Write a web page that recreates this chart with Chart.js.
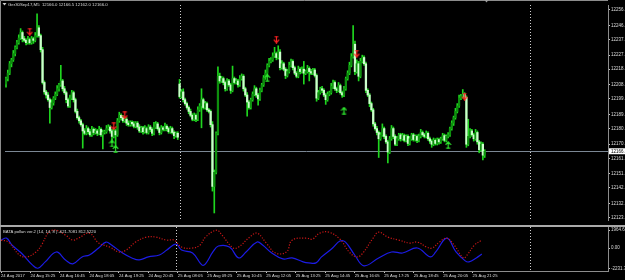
<!DOCTYPE html>
<html>
<head>
<meta charset="utf-8">
<title>Ger30Sep17,M5</title>
<script src="https://cdn.jsdelivr.net/npm/chart.js@4.4.1/dist/chart.umd.min.js"></script>
<style>
  html, body { margin: 0; padding: 0; background: #000; }
  #wrap { position: relative; width: 625px; height: 280px; overflow: hidden; background: #000; }
  #main { position: absolute; left: 0; top: 0; }
  #sep { position: absolute; left: 0; top: 225px; width: 625px; height: 2px; background: #a9a9a9; }
  #sub { position: absolute; left: 0; top: 227px; }
</style>
</head>
<body>
<div id="wrap">
  <canvas id="main" width="625" height="225"></canvas>
  <div id="sep"></div>
  <canvas id="sub" width="625" height="53"></canvas>
</div>
<script>
// M5 closes, 24 Aug 14:05 -> 25 Aug 21:55 (index 95 = 25 Aug 08:00)
const closes = [
  12212.5, 12216, 12222, 12224.5, 12228.5, 12232.5, 12235.5, 12238.5, 12242, 12238,
  12237, 12235.5, 12237.5, 12235.5, 12238, 12237, 12240, 12245, 12240, 12231,
  12210, 12204, 12202, 12199, 12194, 12197, 12200, 12202.5, 12206, 12208.5,
  12211, 12206, 12203.5, 12199, 12195, 12200, 12203.5, 12199, 12191.5, 12187.5,
  12185.5, 12183, 12179, 12177.5, 12180.5, 12178.5, 12176.5, 12180, 12178, 12179,
  12177.5, 12180, 12176.5, 12178, 12178.5, 12180.5, 12181.5, 12179, 12175.5, 12179,
  12176.5, 12185.5, 12189, 12187.5, 12185.5, 12186.5, 12184, 12183, 12184.5, 12183.5,
  12182, 12184, 12181.5, 12179, 12181, 12178.5, 12180.5, 12178, 12181.5, 12180,
  12177.5, 12181.5, 12183.5, 12180.5, 12178, 12181, 12180, 12182, 12180.5, 12178.5,
  12180.5, 12178, 12176, 12177.5, 12175, 12201, 12204, 12199, 12196.5, 12194,
  12191.5, 12189, 12186.5, 12189, 12186.5, 12192.5, 12195, 12199, 12194, 12196.5,
  12192.5, 12191.5, 12183, 12143.5, 12152.5, 12177.5, 12214, 12211, 12212.5, 12210,
  12206, 12211, 12208.5, 12205, 12212.5, 12210, 12211, 12208.5, 12212.5, 12214,
  12206, 12202, 12197.5, 12194, 12199, 12202.5, 12206, 12202, 12199.5, 12205,
  12208.5, 12213, 12216, 12221, 12223.5, 12224.5, 12227, 12228.5, 12226, 12229.5,
  12219.5, 12222, 12218.5, 12214.5, 12217, 12221, 12223.5, 12219.5, 12216, 12214,
  12218.5, 12217, 12218.5, 12216, 12217, 12219, 12217, 12216, 12218, 12214.5,
  12200, 12203.5, 12206, 12205, 12202, 12199, 12202.5, 12203.5, 12207.5, 12210,
  12206, 12205, 12208, 12203.5, 12202, 12206, 12212.5, 12216, 12221, 12226.5,
  12234.5, 12217, 12222, 12214, 12223.5, 12226, 12222, 12205, 12202, 12196.5,
  12192.5, 12183.5, 12180.5, 12178, 12174, 12176.5, 12180.5, 12175.5, 12172, 12165.5,
  12174, 12180.5, 12175.5, 12170.5, 12174, 12176.5, 12174, 12176, 12173, 12175.5,
  12171, 12174, 12176.5, 12173.5, 12175.5, 12173, 12175.5, 12178, 12176.5, 12175.5,
  12177.5, 12174, 12172.5, 12170.5, 12173, 12171, 12173.5, 12172, 12174, 12176,
  12173, 12175.5, 12176.5, 12180.5, 12184, 12187.5, 12191.5, 12195, 12200, 12201,
  12202.5, 12200.5, 12170.5, 12175.5, 12179, 12176.5, 12174, 12178, 12172, 12167,
  12170.5, 12163.5, 12166
];
// wick length above / below the body, in points
const wickHi = [
  1, 2, 1.5, 1, 2, 1, 1.5, 2, 2.5, 1,
  1.5, 1, 2, 1, 1.5, 1, 2, 9, 1.5, 1,
  1.5, 1, 1, 1.5, 1, 2, 1, 1.5, 2, 1,
  10, 1, 1.5, 1, 1, 2, 1.5, 1, 1, 1.5,
  1, 1, 1, 1.5, 2, 1, 1.5, 2, 1, 1.5,
  1, 2, 1, 1.5, 1, 2, 1.5, 1, 1, 1.5,
  1, 1.5, 2, 1, 1.5, 1, 1, 1.5, 1, 1,
  1.5, 1, 1, 1.5, 1, 1, 2, 1, 1.5, 1,
  1, 3, 1.5, 1, 1, 1.5, 1, 2, 1, 1,
  1.5, 1, 1, 1, 1, 3, 1.5, 2, 1, 1,
  1, 1.5, 1, 1.5, 1, 2, 1.5, 7, 1, 1.5,
  1, 1, 1, 2, 1.5, 1, 6, 2, 1.5, 1,
  1, 1.5, 1, 1, 8, 1, 1.5, 1, 2, 1.5,
  1, 1, 1.5, 1, 1, 1.5, 2, 1, 1, 1.5,
  1, 1.5, 2, 1, 2, 1.5, 2, 4, 1, 4,
  1.5, 2, 1, 1, 1.5, 2, 1.5, 1, 1, 1,
  2, 1, 1.5, 5, 1, 2, 1, 1.5, 1, 1,
  1, 1.5, 1, 1.5, 1, 1, 1.5, 1, 2, 1.5,
  1, 1, 2, 1, 1, 1.5, 1, 1.5, 2, 2,
  12, 2, 2.5, 1.5, 2, 1.5, 1, 1, 1, 1,
  1, 1, 1, 1.5, 1, 1.5, 3, 1, 1, 1,
  1.5, 2, 1, 1, 1.5, 1, 1, 1.5, 1, 1,
  1, 1.5, 1, 1, 1, 1, 1.5, 2, 1, 1,
  1.5, 1, 1, 1, 1.5, 1, 1, 1, 1, 1.5,
  1, 1, 1.5, 1, 1.5, 1, 2, 1.5, 2, 1.5,
  3, 1, 1, 11, 1.5, 1, 1, 2, 1, 1,
  1.5, 1, 1
];
const wickLo = [
  2, 1.5, 1, 2, 1, 1.5, 1, 1, 1, 2,
  1, 1.5, 1, 1, 1, 2, 1, 1, 1, 1.5,
  1, 1.5, 2, 1, 10, 1, 1.5, 1, 1, 1.5,
  1, 1.5, 1, 2, 1, 1, 1, 1.5, 1, 1,
  1.5, 1, 11, 1, 1, 1.5, 1, 1, 1.5, 1,
  1.5, 1, 1, 9, 1, 1, 1, 1.5, 4, 1,
  7, 1, 1, 1.5, 1, 1, 1.5, 1, 1, 1.5,
  1, 1, 1.5, 1, 1, 1.5, 1, 1, 1, 1.5,
  1.5, 1, 1, 1, 1.5, 1, 1, 1, 1.5, 1,
  1, 1, 2, 1, 1.5, 1, 1, 1.5, 1, 1,
  1.5, 1, 1, 1, 1.5, 1, 1, 14, 1, 1,
  1, 1, 1.5, 3, 17, 1, 1, 1.5, 1, 1.5,
  1.5, 1, 1, 2, 1, 1, 1, 1.5, 1, 1,
  1.5, 1, 9, 1, 1, 1, 1, 1.5, 4, 1,
  1, 1, 1, 1.5, 1, 1, 1, 1, 1.5, 1,
  1.5, 1, 1, 2, 1, 1, 1, 1.5, 1, 1,
  1, 1.5, 1, 7, 1, 1, 6, 1, 1, 1,
  2, 1, 1, 1.5, 1, 3, 1, 1, 1, 1.5,
  1, 1.5, 1, 1, 1.5, 1, 1, 1, 1, 1,
  1, 2, 1, 3, 1, 1, 1, 1.5, 1, 2,
  1, 1.5, 1, 1.5, 12, 1, 1, 1.5, 1, 7,
  1, 1, 1.5, 1, 1, 1, 1.5, 1, 1, 1,
  1.5, 1, 1, 1, 1, 1.5, 1, 1, 1, 1,
  1, 1, 1.5, 2, 1, 1, 1, 1.5, 1, 1,
  1, 1, 1, 1, 1, 1.5, 1, 1, 1, 1,
  1, 1, 2, 1, 1, 1, 1.5, 1, 1.5, 2,
  1, 3, 1.5
];
const firstOpen = 12209;
const dayStart = 95;
const dayOpen = 12209;
const lastPrice = 12166.0;

// signal arrows
const sellIdx = [13, 59, 65, 148, 192, 251];
const sellPrice = [12242.5, 12182, 12189, 12237.5, 12228.5, 12201];
const buyIdx = [58, 60, 143, 185, 242];
const buyPrice = [12171, 12167.5, 12213, 12192, 12170];

// indicator window
const blueIdx = [0, 3, 6, 11, 17, 20, 24, 30, 35, 39, 44, 48, 53, 57, 60, 66, 71, 75, 80, 86,
  90, 95, 98, 104, 109, 111, 115, 118, 124, 129, 133, 139, 142, 147, 153, 158, 164, 167, 171, 174,
  180, 184, 187, 192, 197, 205, 212, 218, 226, 233, 236, 242, 247, 252, 254, 258, 261];
const blueVal = [860, 1080, 320, -540, -1840, -2200, -1510, -430, -1300, -1730, -970, -760, 0, 650, 320, -540, -1080, -1300, -970, -760,
  -220, 430, -220, -540, -1840, -1730, -430, 220, 110, -1080, -430, 650, 320, -540, -1190, -1080, -1510, -1620, -1620, -970,
  0, 760, 650, -760, -1940, -1080, -430, -540, 0, -970, -430, 1080, -430, -1400, -1510, -1080, -650];
const redIdx = [0, 4, 10, 14, 19, 22, 26, 30, 35, 39, 42, 48, 53, 59, 64, 68, 73, 79, 84, 90,
  94, 98, 104, 108, 111, 117, 120, 126, 129, 135, 139, 144, 149, 155, 158, 166, 169, 173, 178, 184,
  189, 193, 196, 202, 205, 210, 216, 222, 226, 231, 234, 238, 242, 246, 251, 253, 257, 261];
const redVal = [860, 650, -760, -970, -430, 320, 1730, 1940, 1400, 860, 1080, 1620, 540, 110, -430, -220, 650, 1190, 1190, 860,
  860, 110, 0, 320, 1190, 1940, 1400, 0, 110, 1190, 1620, 540, -540, -430, 860, 1080, 970, 1620, 1730, 970,
  -430, -970, -650, 1080, 1730, 1190, 860, 540, 650, 110, 0, 650, 1080, 320, -1080, -760, 320, 860];

// axes
const priceTicks = [12256.5, 12246.5, 12237.5, 12227.5, 12218.5, 12208.5, 12199.5, 12189.5,
  12180.5, 12170.5, 12161.5, 12151.5, 12142.5, 12132.5, 12123.5];
const indTicks = [1964.64, 0, -2231.70];
const timeTickIdx = [0, 16, 32, 48, 64, 80, 96, 112, 128, 144, 160, 176, 192, 208, 224, 240, 256];
const timeLabels = ['24 Aug 2017', '24 Aug 15:25', '24 Aug 16:45', '24 Aug 18:05', '24 Aug 19:25',
  '24 Aug 20:45', '25 Aug 08:05', '25 Aug 09:25', '25 Aug 10:45', '25 Aug 12:05', '25 Aug 13:25',
  '25 Aug 14:45', '25 Aug 16:05', '25 Aug 17:25', '25 Aug 18:45', '25 Aug 20:05', '25 Aug 21:25'];
const periodSeps = [95, 287];

const FONT = 'Liberation Sans';
const TXT = '#dcdcdc';
const FRAME = '#8c8c8c';
const WICK = '#1fd61f';
const BULL = '#0e8f0e';
const BEAR = '#ccffcc';
const AXIS_W = 17;
const X_MIN = -0.55, X_MAX = 329.5;

const opens = closes.map((c, i) => i === 0 ? firstOpen : (i === dayStart ? dayOpen : closes[i - 1]));
const bodyData = closes.map((c, i) => ({ x: i, y: [opens[i], c] }));
const wickData = closes.map((c, i) => ({
  x: i, y: [Math.min(opens[i], c) - wickLo[i], Math.max(opens[i], c) + wickHi[i]]
}));

function makeArrow(down, color) {
  const c = document.createElement('canvas');
  c.width = 7; c.height = 8;
  const g = c.getContext('2d');
  g.strokeStyle = color; g.lineWidth = 1.2;
  if (!down) { g.translate(0, 8); g.scale(1, -1); }
  g.beginPath();
  g.moveTo(1.5, 0.8); g.lineTo(5.5, 0.8);
  g.moveTo(3.5, 0.8); g.lineTo(3.5, 7);
  g.moveTo(0.8, 4.2); g.lineTo(3.5, 7.2); g.lineTo(6.2, 4.2);
  g.stroke();
  return c;
}

// dotted day separators, shared by both windows
const periodLines = {
  id: 'periodLines',
  beforeDatasetsDraw(chart) {
    const { ctx, chartArea: a, scales: { x } } = chart;
    ctx.save();
    ctx.strokeStyle = '#d0d0d0';
    ctx.lineWidth = 1;
    ctx.setLineDash([1, 2]);
    periodSeps.forEach(i => {
      const px = Math.round(x.getPixelForValue(i)) + 0.5;
      ctx.beginPath(); ctx.moveTo(px, a.top); ctx.lineTo(px, a.bottom); ctx.stroke();
    });
    ctx.restore();
  }
};

const mainOverlay = {
  id: 'mainOverlay',
  beforeDatasetsDraw(chart) {
    const { ctx, chartArea: a, scales: { y } } = chart;
    const py = Math.round(y.getPixelForValue(lastPrice)) + 0.5;
    ctx.save();
    ctx.strokeStyle = '#7b8794';
    ctx.lineWidth = 1;
    ctx.beginPath(); ctx.moveTo(a.left, py); ctx.lineTo(a.right, py); ctx.stroke();
    ctx.restore();
  },
  afterDraw(chart) {
    const { ctx, chartArea: a, scales: { x, y } } = chart;
    ctx.save();
    // frame
    ctx.strokeStyle = FRAME; ctx.lineWidth = 1;
    ctx.beginPath();
    ctx.moveTo(0.5, chart.height); ctx.lineTo(0.5, 0.5); ctx.lineTo(a.right, 0.5);
    ctx.stroke();
    // symbol line
    ctx.fillStyle = '#cfcfcf';
    ctx.beginPath(); ctx.moveTo(2.5, 3); ctx.lineTo(6.5, 3); ctx.lineTo(4.5, 5.5); ctx.closePath(); ctx.fill();
    ctx.fillStyle = TXT;
    ctx.font = '4.3px "' + FONT + '"';
    ctx.textBaseline = 'middle';
    ctx.textAlign = 'left';
    ctx.fillText('Ger30Sep17,M5  12166.0 12166.5 12162.0 12166.0', 8, 4.5);
    // chart shift marker
    const sx = x.getPixelForValue(closes.length);
    ctx.fillStyle = '#a0a0a0';
    ctx.beginPath(); ctx.moveTo(sx - 2, 0); ctx.lineTo(sx + 2, 0); ctx.lineTo(sx, 2.5); ctx.closePath(); ctx.fill();
    // last price box
    const py = y.getPixelForValue(lastPrice);
    ctx.fillStyle = '#ffffff';
    ctx.fillRect(a.right + 1, py - 3, chart.width - a.right - 1, 6);
    ctx.fillStyle = '#000000';
    ctx.font = '4.5px "' + FONT + '"';
    ctx.fillText(lastPrice.toFixed(1), a.right + 3, py + 0.3);
    ctx.restore();
  }
};

const subOverlay = {
  id: 'subOverlay',
  afterDraw(chart) {
    const { ctx, chartArea: a } = chart;
    ctx.save();
    ctx.strokeStyle = FRAME; ctx.lineWidth = 1;
    ctx.beginPath(); ctx.moveTo(0.5, 0); ctx.lineTo(0.5, a.bottom); ctx.stroke();
    ctx.fillStyle = TXT;
    ctx.font = '4.2px "' + FONT + '"';
    ctx.textBaseline = 'middle';
    ctx.fillText('BATA pollan ver.2 (14, 14, 8 ) -621.7081 812.5220', 3, 4.5);
    ctx.restore();
  }
};

const yAxisBase = {
  position: 'right',
  grid: { drawOnChartArea: false, drawTicks: true, tickLength: 2, color: '#c8c8c8' },
  border: { color: FRAME },
  afterFit: s => { s.width = AXIS_W; s.paddingTop = 0; s.paddingBottom = 0; }
};

new Chart(document.getElementById('main'), {
  type: 'bar',
  data: {
    datasets: [
      { label: 'wick', data: wickData, backgroundColor: WICK, barThickness: 1, grouped: false, order: 3 },
      {
        label: 'body', data: bodyData, grouped: false, barThickness: 1.6, minBarLength: 1, order: 2,
        backgroundColor: c => closes[c.dataIndex] >= opens[c.dataIndex] ? BULL : BEAR
      },
      {
        type: 'scatter', label: 'sell', order: 1,
        data: sellIdx.map((x, k) => ({ x, y: sellPrice[k] })),
        pointStyle: makeArrow(true, '#ff2222')
      },
      {
        type: 'scatter', label: 'buy', order: 0,
        data: buyIdx.map((x, k) => ({ x, y: buyPrice[k] })),
        pointStyle: makeArrow(false, '#2ee82e')
      }
    ]
  },
  options: {
    responsive: false,
    animation: false,
    events: [],
    layout: { padding: { top: 1, left: 0, right: 0, bottom: 0 } },
    plugins: { legend: { display: false }, tooltip: { enabled: false } },
    scales: {
      x: { type: 'linear', min: X_MIN, max: X_MAX, offset: false, display: false },
      y: Object.assign({}, yAxisBase, {
        min: 12122.0, max: 12259.6,
        afterBuildTicks: s => { s.ticks = priceTicks.map(v => ({ value: v })); },
        ticks: { color: TXT, padding: 1, font: { family: FONT, size: 4.5 }, callback: v => v.toFixed(1) }
      })
    }
  },
  plugins: [periodLines, mainOverlay]
});

new Chart(document.getElementById('sub'), {
  type: 'line',
  data: {
    datasets: [
      {
        label: 'signal', data: redIdx.map((x, k) => ({ x, y: redVal[k] })),
        borderColor: '#c81616', borderWidth: 1.2, borderDash: [1.2, 1.6], pointRadius: 0, tension: 0.4
      },
      {
        label: 'main', data: blueIdx.map((x, k) => ({ x, y: blueVal[k] })),
        borderColor: '#1c1ce6', borderWidth: 1.2, pointRadius: 0, tension: 0.4
      }
    ]
  },
  options: {
    responsive: false,
    animation: false,
    events: [],
    layout: { padding: 0 },
    plugins: { legend: { display: false }, tooltip: { enabled: false } },
    scales: {
      x: {
        type: 'linear', min: X_MIN, max: X_MAX, offset: false, position: 'bottom',
        afterBuildTicks: s => { s.ticks = timeTickIdx.map(v => ({ value: v })); },
        afterFit: s => { s.height = 9; s.paddingLeft = 0; s.paddingRight = 0; },
        grid: { drawOnChartArea: false, drawTicks: true, tickLength: 2, color: '#c8c8c8' },
        border: { color: FRAME },
        ticks: {
          autoSkip: false, maxRotation: 0, align: 'start', padding: 0, color: TXT,
          font: { family: FONT, size: 4.2 }, callback: (v, i) => timeLabels[i]
        }
      },
      y: Object.assign({}, yAxisBase, {
        min: -2504, max: 2292,
        afterBuildTicks: s => { s.ticks = indTicks.map(v => ({ value: v })); },
        ticks: { color: TXT, padding: 1, font: { family: FONT, size: 4.5 }, callback: v => v.toFixed(2) }
      })
    }
  },
  plugins: [periodLines, subOverlay]
});
</script>
</body>
</html>
